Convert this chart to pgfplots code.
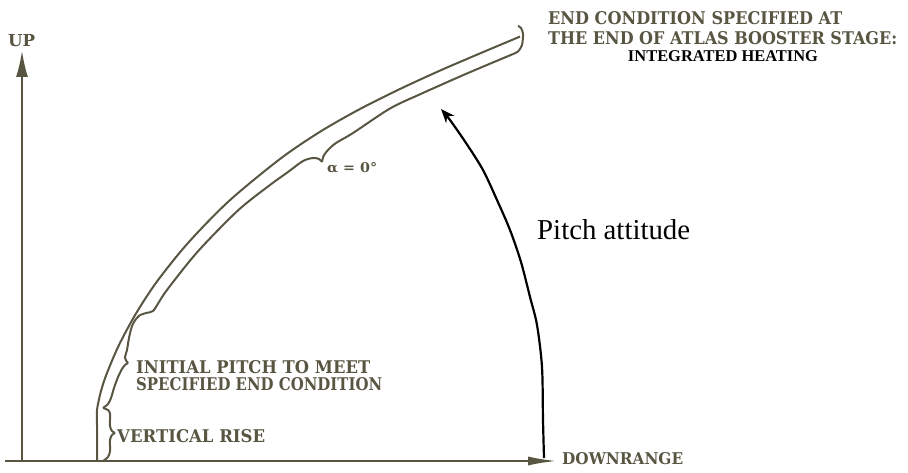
\documentclass[border=0pt]{standalone}
\usepackage{fontspec}
\setmainfont{Liberation Serif}
\newfontfamily\clar{DejaVu Serif}
\usepackage{graphicx}
\usepackage{pgfplots}
\pgfplotsset{compat=1.18}
\usetikzlibrary{arrows.meta}
\definecolor{inkc}{RGB}{88,86,66}
\begin{document}
\begin{tikzpicture}
\begin{axis}[width=908bp, height=473bp, scale only axis,
  xmin=0, xmax=908, ymin=0, ymax=473, hide axis, clip=false]
% axes
\addplot[inkc, line width=2.6bp, -{Latex[length=30bp,width=9bp]}] coordinates {(5,12) (558,12)};
\addplot[inkc, line width=2.6bp, -{Latex[length=27bp,width=12bp]}] coordinates {(22,12) (22,423)};
% trajectory (outer)
\addplot[inkc, line width=2bp, smooth] coordinates {
 (97,12) (97,48) (97,63) (101,82) (107,100) (119,128) (136,159.5) (157,191.5) (188,230)
 (229,272) (280,314) (320,341.2) (360,364) (400,384) (440,402.4) (480,419.6) (520,436.4)};
% vertical rise brace
\addplot[inkc, line width=2bp, smooth] coordinates {
 (103,12) (108,16) (110,22) (110,33) (112,38) (115,40)};
\addplot[inkc, line width=2bp, smooth] coordinates {
 (115,40) (112,42) (110,47) (110,59) (108,63) (103,65)};
% initial pitch brace
\addplot[inkc, line width=2bp, smooth] coordinates {
 (103,65) (108,69) (111,75) (114,85) (118,96) (122,104) (125,108) (128,110)};
\addplot[inkc, line width=2bp, smooth] coordinates {
 (128,110) (125,115) (127,123) (129,135) (132,147) (136,154) (140,158)};
% alpha = 0 brace with end hook
\addplot[inkc, line width=2bp, smooth] coordinates {
 (140,158) (146,160) (153,162) (159,171) (167.7,184) (197.8,221.5) (237.9,262.5)
 (270,288) (288,301) (303,312) (313,315) (319,314) (322,311)};
\addplot[inkc, line width=2bp, smooth] coordinates {
 (322,311) (323.5,317) (328,323) (336,330) (353,340) (390,364.5) (420,378.7)
 (460,396.5) (490,409.3) (511,418.1) (518,421.5) (522,428) (523,439) (521,445) (518,447)};
% pitch attitude arc
\addplot[black, line width=2.2bp, smooth, -{Stealth[length=14bp,width=11bp]}] coordinates {
 (544,15) (543,53) (542,106) (537,148) (530,176) (521,211) (510,243) (497,273)
 (483,303) (466,330) (450,353) (441,364)};
% labels
\node[anchor=west, inner sep=0, text=inkc] at (axis cs:8,432) {\resizebox{27bp}{12bp}{\clar\bfseries UP}};
\node[anchor=west, inner sep=0, text=inkc] at (axis cs:562,14) {\resizebox{121bp}{12bp}{\clar\bfseries DOWNRANGE}};
\node[anchor=west, inner sep=0, text=inkc] at (axis cs:117,37) {\resizebox{148bp}{13bp}{\clar\bfseries VERTICAL RISE}};
\node[anchor=west, inner sep=0, text=inkc] at (axis cs:136,106) {\resizebox{234bp}{13bp}{\clar\bfseries INITIAL PITCH TO MEET}};
\node[anchor=west, inner sep=0, text=inkc] at (axis cs:136,89) {\resizebox{246bp}{13bp}{\clar\bfseries SPECIFIED END CONDITION}};
\node[anchor=west, inner sep=0, text=inkc] at (axis cs:327,305) {\resizebox{50bp}{10bp}{\clar\bfseries α = 0°}};
\node[anchor=west, inner sep=0, text=inkc] at (axis cs:548,455) {\resizebox{294bp}{13bp}{\clar\bfseries END CONDITION SPECIFIED AT}};
\node[anchor=west, inner sep=0, text=inkc] at (axis cs:548,435) {\resizebox{349bp}{13bp}{\clar\bfseries THE END OF ATLAS BOOSTER STAGE:}};
\node[anchor=center, inner sep=0, text=black] at (axis cs:723,417) {\resizebox{190bp}{!}{\bfseries INTEGRATED HEATING}};
\node[anchor=west, inner sep=0, text=black] at (axis cs:537,243) {\resizebox{153bp}{!}{Pitch attitude}};
\end{axis}
\pgfresetboundingbox
\path (current axis.south west) rectangle (current axis.north east);
\end{tikzpicture}
\end{document}
